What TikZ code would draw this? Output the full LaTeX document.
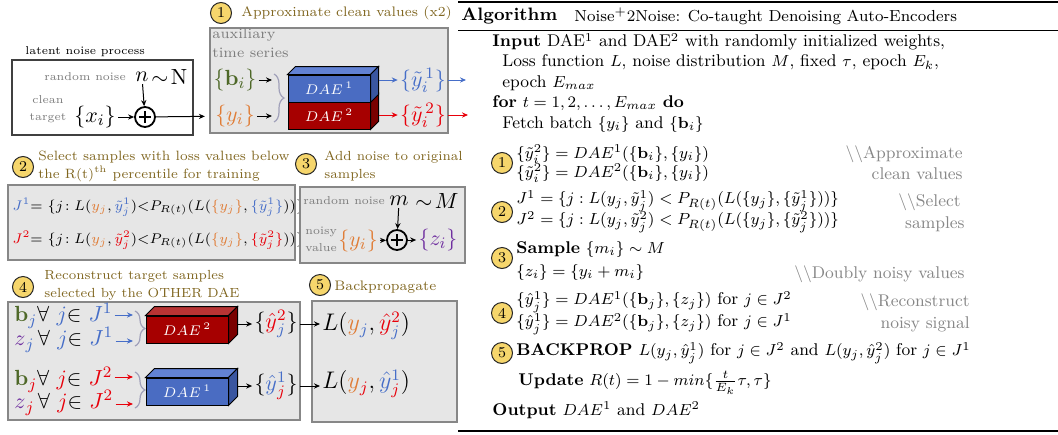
\documentclass[tikz,border=0pt]{standalone}
\usepackage{amsmath,amssymb}
\usetikzlibrary{arrows.meta,positioning,calc,decorations.pathreplacing}
\definecolor{ttlcol}{RGB}{128,102,32}
\definecolor{labgray}{RGB}{125,125,125}
\definecolor{cmtgray}{RGB}{135,135,135}
\definecolor{boxfill}{RGB}{230,230,230}
\definecolor{boxgray}{RGB}{135,135,135}
\definecolor{numyel}{RGB}{246,214,108}
\definecolor{cblue}{RGB}{70,110,200}
\definecolor{cred}{RGB}{232,0,10}
\definecolor{corange}{RGB}{224,125,55}
\definecolor{cgreen}{RGB}{78,104,40}
\definecolor{cpurple}{RGB}{112,48,160}
\definecolor{bracegray}{RGB}{160,160,185}
\definecolor{daeblue}{RGB}{74,108,194}
\definecolor{daebluetop}{RGB}{98,130,212}
\definecolor{daeblueside}{RGB}{58,86,160}
\definecolor{daered}{RGB}{166,0,0}
\definecolor{daeredtop}{RGB}{184,52,52}
\definecolor{daeredside}{RGB}{122,0,0}
\newcommand{\inblue}[1]{{\color{cblue}#1}}
\newcommand{\inred}[1]{{\color{cred}#1}}
\newcommand{\inorange}[1]{{\color{corange}#1}}
\newcommand{\ingreen}[1]{{\color{cgreen}#1}}
\newcommand{\inpurple}[1]{{\color{cpurple}#1}}

\begin{document}
\begin{tikzpicture}[x=0.5pt, y=-0.5pt,
    arr/.style={-{Stealth[length=3pt,width=2.6pt]}, line width=0.5pt},
    panel/.style={draw=boxgray, fill=boxfill, line width=0.7pt},
    ttl/.style={text=ttlcol, font=\fontsize{6.75}{9}\selectfont, align=left, inner sep=0pt, anchor=west},
    gry/.style={text=labgray, font=\fontsize{5.7}{8.5}\selectfont, inner sep=0pt},
    bigm/.style={font=\fontsize{11}{13}\selectfont, inner sep=1pt},
    midm/.style={font=\fontsize{6.55}{10}\selectfont, inner sep=0pt, anchor=west},
    numc/.style={circle, draw=black!85, fill=numyel, inner sep=0pt, minimum size=10.5pt, line width=0.5pt, font=\fontsize{7.5}{8}\selectfont},
    oplus/.style={circle, draw, line width=0.9pt, minimum size=10pt, inner sep=0pt,
      path picture={\draw[line width=0.9pt] ([xshift=-3pt]path picture bounding box.center) -- ([xshift=3pt]path picture bounding box.center);
                    \draw[line width=0.9pt] ([yshift=-3pt]path picture bounding box.center) -- ([yshift=3pt]path picture bounding box.center);}},
    dae/.style={draw, line width=0.5pt, minimum width=41pt, minimum height=13.5pt, inner sep=0pt, text=white, font=\fontsize{7.5}{8}\selectfont},
    brc/.style={decorate, decoration={brace, amplitude=5pt}, draw=bracegray, line width=0.6pt},
    alg/.style={font=\fontsize{8.5}{10}\selectfont, anchor=west, inner sep=0pt},
    cmt/.style={font=\fontsize{8.5}{10}\selectfont, anchor=east, inner sep=0pt, text=cmtgray}]
  \useasboundingbox (0,0) rectangle (1058,434);
  % ================================================================ latent noise process
  \node[anchor=west, inner sep=0pt, font=\fontsize{5.7}{7}\selectfont] (latlab) at (25,52) {latent noise process};
  \draw[line width=0.7pt, black!75] (12,60) rectangle (193,135);
  \node[gry] (rnlab) at (85,77) {random noise};
  \node[bigm] (nvar) at (142,77) {$n$};
  \node[bigm, anchor=west, inner sep=0pt] (ndist) at (nvar.east) {$\sim\!\mathrm{N}$};
  \node[gry, align=center] (cllab) at (48,109) {clean\\target};
  \node[bigm] (xi) at (95,117) {$\{x_i\}$};
  \node[oplus] (plus1) at (145,117) {};
  \draw[arr] (nvar) -- (plus1);
  \draw[arr] (xi) -- (plus1);
  % ================================================================ (1) approximate clean values
  \draw[panel] (210,28) rectangle (448,133);
  \node[numc] (n1) at (221,13) {1};
  \node[ttl, font=\fontsize{6.9}{9}\selectfont] (t1) at (241,13) {Approximate clean values (x2)};
  \node[gry, anchor=north west, align=left, font=\fontsize{7.2}{9.5}\selectfont] (auxlab) at (212,28) {auxiliary\\time series};
  \node[bigm] (bi) at (235,80) {$\ingreen{\{\mathbf b_i\}}$};
  \node[bigm] (yi) at (235,116) {$\inorange{\{y_i\}}$};
  \draw[arr, shorten >=4pt] (plus1) -- (yi);
  \coordinate (b1in) at (272,80);
  \coordinate (b2in) at (272,116);
  \draw[arr] (bi) -- (b1in);
  \draw[arr] (yi) -- (b2in);
  \draw[brc] (274,74) -- (274,122);
  % DAE stack
  \node[dae, fill=daered] (d2) at (329,115.5) {$DAE^{\,2}$};
  \filldraw[fill=daeredside, line width=0.5pt] (d2.north east) -- ++(8,-8) -- ([shift={(8,-8)}]d2.south east) -- (d2.south east) -- cycle;
  \node[dae, fill=daeblue] (d1) at (329,88.5) {$DAE^{\,1}$};
  \filldraw[fill=daebluetop, line width=0.5pt] (d1.north west) -- ++(8,-8) -- ([shift={(8,-8)}]d1.north east) -- (d1.north east) -- cycle;
  \filldraw[fill=daeblueside, line width=0.5pt] (d1.north east) -- ++(8,-8) -- ([shift={(8,-8)}]d1.south east) -- (d1.south east) -- cycle;
  \node[bigm] (yt1) at (423,80) {$\inblue{\{\tilde y_i^{\,1}\}}$};
  \node[bigm] (yt2) at (423,115) {$\inred{\{\tilde y_i^{\,2}\}}$};
  \draw[arr, cblue] ([xshift=4pt]d1.east |- yt1) -- (yt1);
  \draw[arr, cred] ([xshift=4pt]d2.east |- yt2) -- (yt2);
  \coordinate (o1) at (466,80);
  \coordinate (o2) at (468,115);
  \draw[arr, cblue] (yt1) -- (o1);
  \draw[arr, cred] (yt2) -- (o2);
  % ================================================================ (2) select samples
  \node[numc] (n2) at (23,167) {2};
  \node[ttl] (t2) at (38,166) {Select samples with loss values below\\the R(t)$^{\text{th}}$ percentile for training};
  \draw[panel] (8,185) rectangle (295,260);
  \node[midm] (j1) at (12,207) {$\inblue{J^1}{=}\ \{j\!: L(\inorange{y_j},\inblue{\tilde y_j^1}){<}P_{R(t)}(L(\inorange{\{y_j\}},\inblue{\{\tilde y_j^1\}}))\}$};
  \node[midm] (j2) at (12,240) {$\inred{J^2}{=}\ \{j\!: L(\inorange{y_j},\inred{\tilde y_j^2}){<}P_{R(t)}(L(\inorange{\{y_j\}},\inred{\{\tilde y_j^2\}}))\}$};
  % ================================================================ (3) add noise
  \node[numc] (n3) at (306,164) {3};
  \node[ttl, font=\fontsize{6.6}{9}\selectfont] (t3) at (324,166) {Add noise to original\\samples};
  \draw[panel] (300,187) rectangle (465,263);
  \node[gry] (rn3) at (344,201) {random noise};
  \node[bigm] (mvar) at (399,201) {$m$};
  \node[bigm, anchor=west, inner sep=0pt] (mdist) at ([xshift=2pt]mvar.east) {$\sim\!M$};
  \node[gry, align=left, anchor=west] (nvlab) at (305,239) {noisy\\value};
  \node[bigm] (yi3) at (358,241) {$\inorange{\{y_i\}}$};
  \node[oplus] (plus3) at (397,240) {};
  \node[bigm] (zi) at (438,240) {$\inpurple{\{z_i\}}$};
  \draw[arr] (mvar) -- (plus3);
  \draw[arr] (yi3) -- (plus3);
  \draw[arr] (plus3) -- (zi);
  % ================================================================ (4) reconstruct
  \node[numc] (n4) at (23,287) {4};
  \node[ttl, font=\fontsize{6.6}{9}\selectfont] (t4) at (44,285) {Reconstruct target samples\\selected by the OTHER DAE};
  \draw[panel] (8,302) rectangle (300,420);
  \node[bigm, anchor=west] (r1) at (12,316) {$\ingreen{\mathbf b}_{\inblue j}\forall\ \inblue{j}{\in}\ \inblue{J^1}$};
  \node[bigm, anchor=west] (r2) at (12,340) {$\inpurple{z}_{\inblue j}\,\forall\ \inblue{j}{\in}\ \inblue{J^1}$};
  \node[bigm, anchor=west] (r3) at (12,380) {$\ingreen{\mathbf b}_{\inred j}\forall\ \inred{j}{\in}\ \inred{J^2}$};
  \node[bigm, anchor=west] (r4) at (12,403) {$\inpurple{z}_{\inred j}\,\forall\ \inred{j}{\in}\ \inred{J^2}$};
  \coordinate (r1e) at (133,315);
  \coordinate (r2e) at (133,341);
  \coordinate (r3e) at (133,377);
  \coordinate (r4e) at (133,404);
  \draw[arr, cblue] (r1.east |- r1e) -- (r1e);
  \draw[arr, cblue] (r2.east |- r2e) -- (r2e);
  \draw[arr, cred] (r3.east |- r3e) -- (r3e);
  \draw[arr, cred] (r4.east |- r4e) -- (r4e);
  \draw[brc] (135,311) -- (135,346);
  \draw[brc] (135,372) -- (135,408);
  \node[dae, fill=daered] (d2b) at (187,329.5) {$DAE^{\,2}$};
  \filldraw[fill=daeredtop, line width=0.5pt] (d2b.north west) -- ++(9,-9) -- ([shift={(9,-9)}]d2b.north east) -- (d2b.north east) -- cycle;
  \filldraw[fill=daeredside, line width=0.5pt] (d2b.north east) -- ++(9,-9) -- ([shift={(9,-9)}]d2b.south east) -- (d2b.south east) -- cycle;
  \node[dae, fill=daeblue] (d1b) at (187,391.5) {$DAE^{\,1}$};
  \filldraw[fill=daebluetop, line width=0.5pt] (d1b.north west) -- ++(9,-9) -- ([shift={(9,-9)}]d1b.north east) -- (d1b.north east) -- cycle;
  \filldraw[fill=daeblueside, line width=0.5pt] (d1b.north east) -- ++(9,-9) -- ([shift={(9,-9)}]d1b.south east) -- (d1b.south east) -- cycle;
  \node[bigm] (yh2) at (276,324) {$\{\inred{\hat y}_{\inblue j}^{\inred 2}\}$};
  \node[bigm] (yh1) at (276,386) {$\{\inblue{\hat y}_{\inred j}^{\inblue 1}\}$};
  \draw[arr] ([xshift=4.5pt]d2b.east |- yh2) -- (yh2);
  \draw[arr] ([xshift=4.5pt]d1b.east |- yh1) -- (yh1);
  % ================================================================ (5) backpropagate
  \node[numc] (n5) at (320,285) {5};
  \node[ttl, font=\fontsize{6.9}{9}\selectfont] (t5) at (334,287) {Backpropagate};
  \draw[panel] (312,301) rectangle (457,422);
  \node[bigm, anchor=west, font=\fontsize{12}{14}\selectfont] (L2) at (320,326) {$L(\inorange{y}_{\inblue j},\inred{\hat y}_{\inblue j}^{\inred 2})$};
  \node[bigm, anchor=west, font=\fontsize{12}{14}\selectfont] (L1) at (320,384) {$L(\inorange{y}_{\inred j},\inblue{\hat y}_{\inred j}^{\inblue 1})$};
  \draw[arr] (yh2.east) -- (yh2.east -| L2.west);
  \draw[arr] (yh1.east) -- (yh1.east -| L1.west);
  % ================================================================ algorithm
  \draw[line width=0.8pt] (458,2) -- (1058,2);
  \draw[line width=0.4pt] (458,30) -- (1058,30);
  \draw[line width=0.8pt] (458,431) -- (1058,431);
  \node[alg, font=\fontsize{9}{10}\selectfont] (algh) at (461,16) {\textbf{Algorithm}};
  \node[alg, font=\fontsize{8}{10}\selectfont] (algt) at (574,16) {Noise$^+$2Noise: Co-taught Denoising Auto-Encoders};
  \node[alg] (l1) at (492,42) {\textbf{Input} DAE$^1$ and DAE$^2$ with randomly initialized weights,};
  \node[alg] (l2) at (502,62) {Loss function $L$, noise distribution $M$, fixed $\tau$, epoch $E_k$,};
  \node[alg] (l3) at (502,83) {epoch $E_{max}$};
  \node[alg] (l4) at (492,103) {\textbf{for} $t=1,2,\ldots,E_{max}$ \textbf{do}};
  \node[alg] (l5) at (502,124) {Fetch batch $\{y_i\}$ and $\{\mathbf{b}_i\}$};
  \node[numc] (a1) at (502,163) {1};
  \node[alg] (s1a) at (516,154) {$\{\tilde y_i^2\} = DAE^1(\{\mathbf b_i\},\{y_i\})$};
  \node[alg] (s1b) at (516,173) {$\{\tilde y_i^2\} = DAE^2(\{\mathbf b_i\},\{y_i\})$};
  \node[cmt] (c1a) at (963,154) {\textbackslash\textbackslash Approximate};
  \node[cmt] (c1b) at (963,174) {clean values};
  \node[numc] (a2) at (502,212) {2};
  \node[alg] (s2a) at (516,201) {$J^1 = \{j : L(y_j,\tilde y_j^1) < P_{R(t)}(L(\{y_j\},\{\tilde y_j^1\}))\}$};
  \node[alg] (s2b) at (516,222) {$J^2 = \{j : L(y_j,\tilde y_j^2) < P_{R(t)}(L(\{y_j\},\{\tilde y_j^2\}))\}$};
  \node[cmt] (c2a) at (961,202) {\textbackslash\textbackslash Select};
  \node[cmt] (c2b) at (965,224) {samples};
  \node[numc] (a3) at (502,258) {3};
  \node[alg] (s3a) at (516,249) {\textbf{Sample} $\{m_i\}\sim M$};
  \node[alg] (s3b) at (516,272) {$\{z_i\}=\{y_i+m_i\}$};
  \node[cmt] (c3) at (965,274) {\textbackslash\textbackslash Doubly noisy values};
  \node[numc] (a4) at (502,313) {4};
  \node[alg] (s4a) at (516,302) {$\{\hat y_j^1\} = DAE^1(\{\mathbf b_j\},\{z_j\})$ for $j\in J^2$};
  \node[alg] (s4b) at (516,324) {$\{\hat y_j^1\} = DAE^2(\{\mathbf b_j\},\{z_j\})$ for $j\in J^1$};
  \node[cmt] (c4a) at (970,302) {\textbackslash\textbackslash Reconstruct};
  \node[cmt] (c4b) at (970,324) {noisy signal};
  \node[numc] (a5) at (502,353) {5};
  \node[alg] (s5) at (516,353) {\textbf{BACKPROP} $L(y_j,\hat y_j^1)$ for $j\in J^2$ and $L(y_j,\hat y_j^2)$ for $j\in J^1$};
  \node[alg] (s6) at (518,383) {\textbf{Update} $R(t)=1-min\{\frac{t}{E_k}\tau,\tau\}$};
  \node[alg] (s7) at (492,410) {\textbf{Output} $DAE^1$ and $DAE^2$};
\end{tikzpicture}
\end{document}
